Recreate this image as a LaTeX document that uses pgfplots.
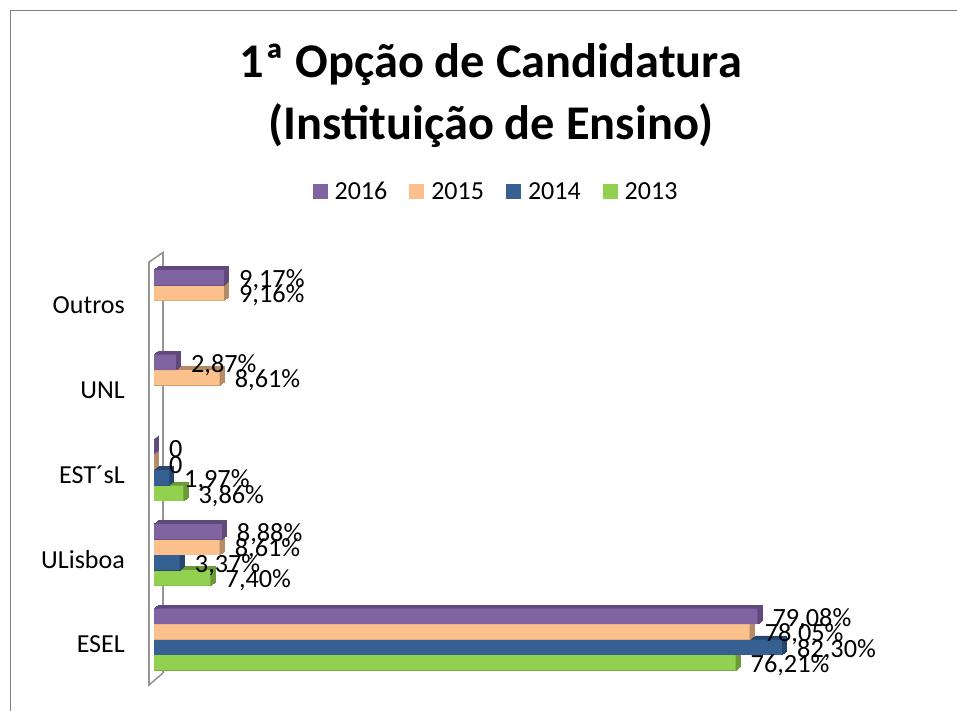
\documentclass[border=0pt]{standalone}
\usepackage{fontspec}
\setmainfont{Carlito}
\usepackage{pgfplots}
\usepackage{pgfplotstable}
\pgfplotsset{compat=1.18}
\definecolor{cP}{HTML}{8064A2}\definecolor{dP}{HTML}{5F4A7B}
\definecolor{cO}{HTML}{FBC08C}\definecolor{dO}{HTML}{B58B63}
\definecolor{cB}{HTML}{366092}\definecolor{dB}{HTML}{26466F}
\definecolor{cG}{HTML}{92D050}\definecolor{dG}{HTML}{6C9A3A}
\definecolor{wall}{HTML}{969696}
\pgfplotstableread{
y x label
4 9.17 9,17\%
3 2.87 2,87\%
2 0 0
1 8.88 8,88\%
0 79.08 79,08\%
}\tP
\pgfplotstableread{
y x label
4 9.16 9,16\%
3 8.61 8,61\%
2 0 0
1 8.61 8,61\%
0 78.05 78,05\%
}\tO
\pgfplotstableread{
y x label
2 1.97 1,97\%
1 3.37 3,37\%
0 82.30 82,30\%
}\tB
\pgfplotstableread{
y x label
2 3.86 3,86\%
1 7.40 7,40\%
0 76.21 76,21\%
}\tG
% #1 table, #2 front colour, #3 depth colour, #4 bar shift
\newcommand\barser[4]{%
  \pgfplotsinvokeforeach{0.5,1.5,2.5,3.5,4.5}{%
    \addplot[forget plot,draw=#3,line width=0.6pt,fill=#3,bar shift=#4,xshift=##1 pt,yshift=0.8*##1 pt] table[x=x,y=y] {#1};
  }%
  \addplot[draw=none,fill=#2,bar shift=#4] table[x=x,y=y] {#1};
}
\newcommand\labser[2]{%
  \addplot[forget plot,draw=none,fill=none,bar shift=#2,
    point meta=explicit symbolic,
    nodes near coords,
    nodes near coords style={anchor=west,inner sep=0pt,xshift=15pt,yshift=-2.5pt,text=black,font=\fontsize{26.3}{26}\selectfont}]
    table[x=x,y=y,meta=label] {#1};
}
\begin{document}
\begin{tikzpicture}[x=1pt,y=1pt]
\path[use as bounding box] (0,0) rectangle (957,711);
\draw[wall!85!black,line width=1pt] (10.5,0) -- (10.5,700.5) -- (957,700.5);
\draw[wall,line width=1.6pt] (163,38) -- (163,458.5) -- (149,449) -- (149,26) -- (163,38);
\begin{axis}[
  at={(154pt,21pt)},anchor=south west,
  scale only axis,width=786pt,height=440pt,
  xmin=0,xmax=103.01,ymin=-0.596,ymax=4.599,
  xbar,bar width=15.4pt,clip=false,
  axis line style={draw=none},
  xtick=\empty,ytick={0,1,2,3,4},
  yticklabels={ESEL,ULisboa,EST´sL,UNL,Outros},
  major tick length=0pt,
  yticklabel style={font=\fontsize{26}{26}\selectfont,anchor=east,inner sep=0pt,xshift=-29pt,yshift=-4.5pt},
  title={1ª Opção de Candidatura\\(Instituição de Ensino)},
  title style={at={(0.4285,1.3365)},anchor=center,align=center,font=\fontsize{48.4}{62}\selectfont\bfseries},
  reverse legend,
  legend columns=-1,
  legend style={at={(0.4383,1.134)},anchor=center,draw=none,fill=none,
    font=\fontsize{26}{26}\selectfont,inner sep=0pt,
    nodes={inner ysep=0pt,inner xsep=7pt,text height=17pt,text depth=0pt},
    /tikz/every even column/.append style={column sep=15pt}},
  legend image code/.code={\fill[#1,draw=none] (0pt,-7.5pt) rectangle (15pt,7.5pt);},
]
\barser{\tG}{cG}{dG}{-23.1pt}
\barser{\tB}{cB}{dB}{-7.7pt}
\barser{\tO}{cO}{dO}{7.7pt}
\barser{\tP}{cP}{dP}{23.1pt}
\labser{\tG}{-23.1pt}
\labser{\tB}{-7.7pt}
\labser{\tO}{7.7pt}
\labser{\tP}{23.1pt}
\legend{2013,2014,2015,2016}
\end{axis}
\end{tikzpicture}
\end{document}
